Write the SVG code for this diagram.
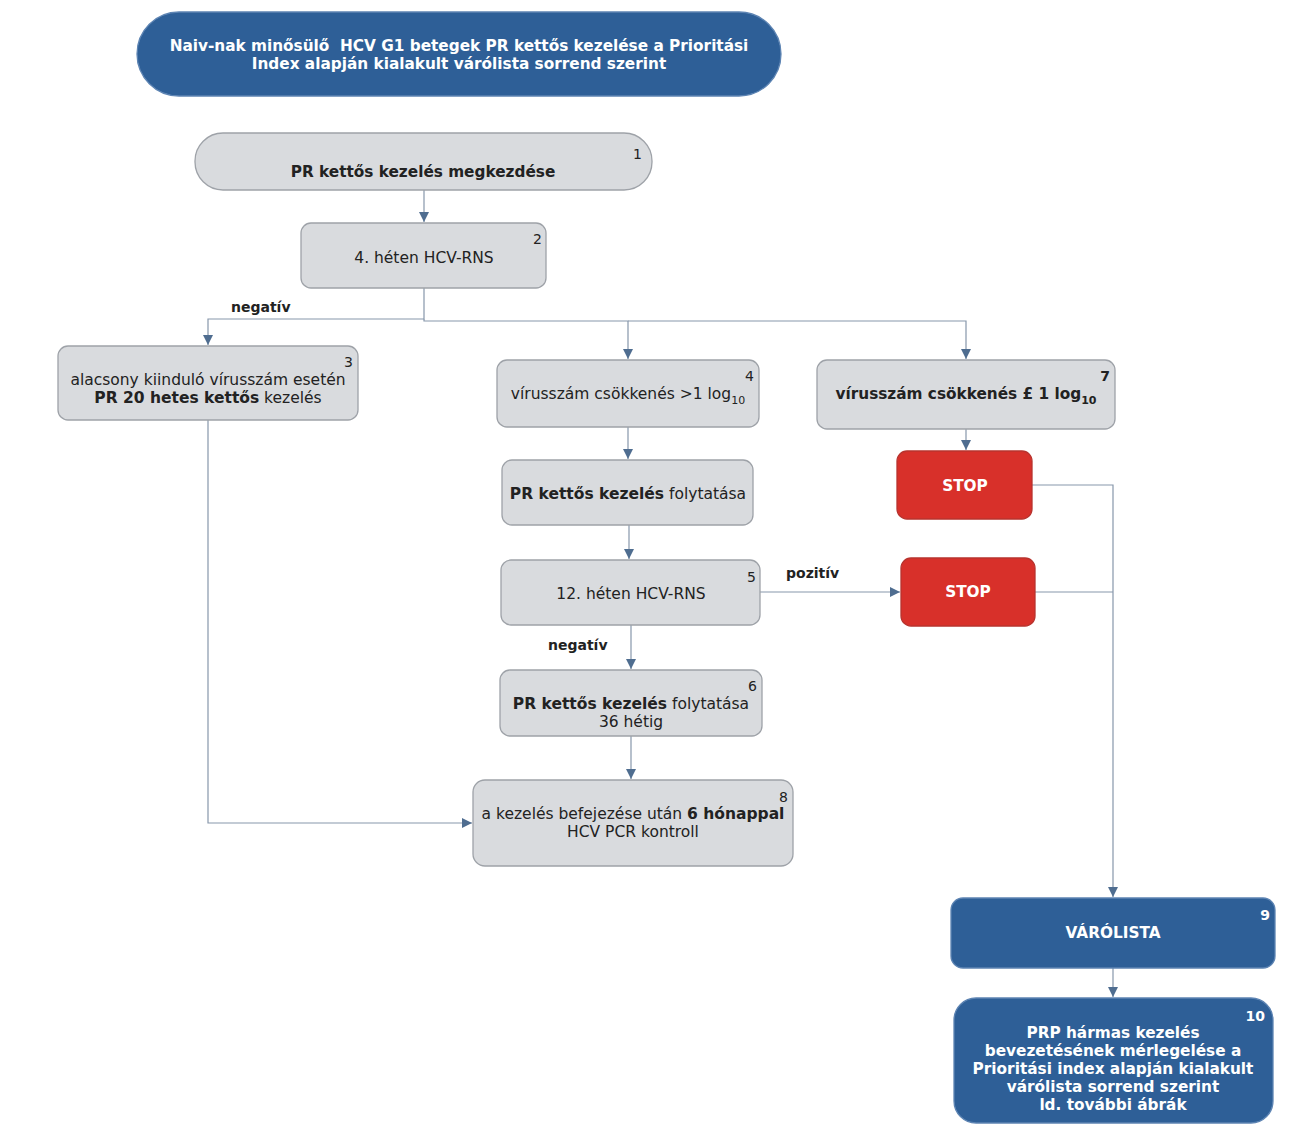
<svg xmlns="http://www.w3.org/2000/svg" width="1309" height="1141" viewBox="0 0 1309 1141">
<style>
text{font-family:"DejaVu Sans","Verdana",sans-serif;}
.g{fill:#d9dbde;stroke:#9ea2a8;stroke-width:1.3;}
.b{fill:#2e5f97;stroke:#5d84b3;stroke-width:1.3;}
.r{fill:#d8302a;stroke:#b8332e;stroke-width:1.3;}
.t{font-size:15.5px;fill:#222;text-anchor:middle;}
.tb{font-size:15.3px;font-weight:bold;fill:#222;text-anchor:middle;}
.w{font-size:15.3px;font-weight:bold;fill:#fff;text-anchor:middle;}
.n{font-size:14px;fill:#222;text-anchor:end;}
.nw{font-size:14px;font-weight:bold;fill:#fff;text-anchor:end;}
.lbl{font-size:14px;font-weight:bold;fill:#222;}
.c{fill:none;stroke:#8797ab;stroke-width:1.2;}
.bo{font-weight:bold;}
</style>
<defs>
<marker id="a" viewBox="0 0 10 10" refX="10" refY="5" markerWidth="10" markerHeight="10" markerUnits="userSpaceOnUse" orient="auto">
<path d="M0,0 L10,5 L0,10 z" fill="#4f6d90"/>
</marker>
</defs>
<rect width="1309" height="1141" fill="#fff"/>
<g id="connectors">
<path class="c" d="M424,190 V222" marker-end="url(#a)"/>
<path class="c" d="M424,288 V319 H208 V345" marker-end="url(#a)"/>
<path class="c" d="M424,319 V321 H628 V359" marker-end="url(#a)"/>
<path class="c" d="M628,321 H966 V359" marker-end="url(#a)"/>
<path class="c" d="M628,427 V459" marker-end="url(#a)"/>
<path class="c" d="M966,429 V450" marker-end="url(#a)"/>
<path class="c" d="M629,525 V559" marker-end="url(#a)"/>
<path class="c" d="M760,592 H900" marker-end="url(#a)"/>
<path class="c" d="M631,625 V669" marker-end="url(#a)"/>
<path class="c" d="M631,736 V779" marker-end="url(#a)"/>
<path class="c" d="M208,420 V823 H472" marker-end="url(#a)"/>
<path class="c" d="M1032,485 H1113 V897" marker-end="url(#a)"/>
<path class="c" d="M1035,592 H1113"/>
<path class="c" d="M1113,968 V997" marker-end="url(#a)"/>
<text class="lbl" x="231" y="312">negatív</text>
<text class="lbl" x="786" y="578">pozitív</text>
<text class="lbl" x="548" y="650">negatív</text>
</g>
<g id="title">
<rect class="b" x="137" y="12" width="644" height="84" rx="42"/>
<text class="w" x="459" y="51">Naiv-nak minősülő&#160; HCV G1 betegek PR kettős kezelése a Prioritási</text>
<text class="w" x="459" y="69">Index alapján kialakult várólista sorrend szerint</text>
</g>
<g id="n1">
<rect class="g" x="195" y="133" width="457" height="57" rx="28"/>
<text class="tb" x="423" y="177">PR kettős kezelés megkezdése</text>
<text class="n" x="642" y="159">1</text>
</g>
<g id="n2">
<rect class="g" x="301" y="223" width="245" height="65" rx="10"/>
<text class="t" x="424" y="263">4. héten HCV-RNS</text>
<text class="n" x="542" y="244">2</text>
</g>
<g id="n3">
<rect class="g" x="58" y="346" width="300" height="74" rx="10"/>
<text class="t" x="208" y="385">alacsony kiinduló vírusszám esetén</text>
<text class="t" x="208" y="403"><tspan class="bo">PR 20 hetes kettős</tspan> kezelés</text>
<text class="n" x="353" y="367">3</text>
</g>
<g id="n4">
<rect class="g" x="497" y="360" width="262" height="67" rx="10"/>
<text class="t" x="628" y="399">vírusszám csökkenés &gt;1 log<tspan font-size="11" dy="5">10</tspan></text>
<text class="n" x="754" y="381">4</text>
</g>
<g id="n7">
<rect class="g" x="817" y="360" width="298" height="69" rx="10"/>
<text class="tb" x="966" y="399">vírusszám csökkenés £ 1 log<tspan font-size="11" dy="5">10</tspan></text>
<text class="n" x="1110" y="381" font-weight="bold">7</text>
</g>
<g id="stop1">
<rect class="r" x="897" y="451" width="135" height="68" rx="10"/>
<text class="w" x="965" y="491">STOP</text>
</g>
<g id="n4b">
<rect class="g" x="502" y="460" width="251" height="65" rx="10"/>
<text class="t" x="628" y="499"><tspan class="bo">PR kettős kezelés</tspan> folytatása</text>
</g>
<g id="n5">
<rect class="g" x="501" y="560" width="259" height="65" rx="10"/>
<text class="t" x="631" y="599">12. héten HCV-RNS</text>
<text class="n" x="756" y="582">5</text>
</g>
<g id="stop2">
<rect class="r" x="901" y="558" width="134" height="68" rx="10"/>
<text class="w" x="968" y="597">STOP</text>
</g>
<g id="n6">
<rect class="g" x="500" y="670" width="262" height="66" rx="10"/>
<text class="t" x="631" y="709"><tspan class="bo">PR kettős kezelés</tspan> folytatása</text>
<text class="t" x="631" y="727">36 hétig</text>
<text class="n" x="757" y="691">6</text>
</g>
<g id="n8">
<rect class="g" x="473" y="780" width="320" height="86" rx="12"/>
<text class="t" x="633" y="819">a kezelés befejezése után <tspan class="bo">6 hónappal</tspan></text>
<text class="t" x="633" y="837">HCV PCR kontroll</text>
<text class="n" x="788" y="802">8</text>
</g>
<g id="n9">
<rect class="b" x="951" y="898" width="324" height="70" rx="12"/>
<text class="w" x="1113" y="938" font-size="16">VÁRÓLISTA</text>
<text class="nw" x="1270" y="920">9</text>
</g>
<g id="n10">
<rect class="b" x="954" y="998" width="319" height="125" rx="22"/>
<text class="w" x="1113" y="1038">PRP hármas kezelés</text>
<text class="w" x="1113" y="1056">bevezetésének mérlegelése a</text>
<text class="w" x="1113" y="1074">Prioritási index alapján kialakult</text>
<text class="w" x="1113" y="1092">várólista sorrend szerint</text>
<text class="w" x="1113" y="1110">ld. további ábrák</text>
<text class="nw" x="1265" y="1021">10</text>
</g>
</svg>
